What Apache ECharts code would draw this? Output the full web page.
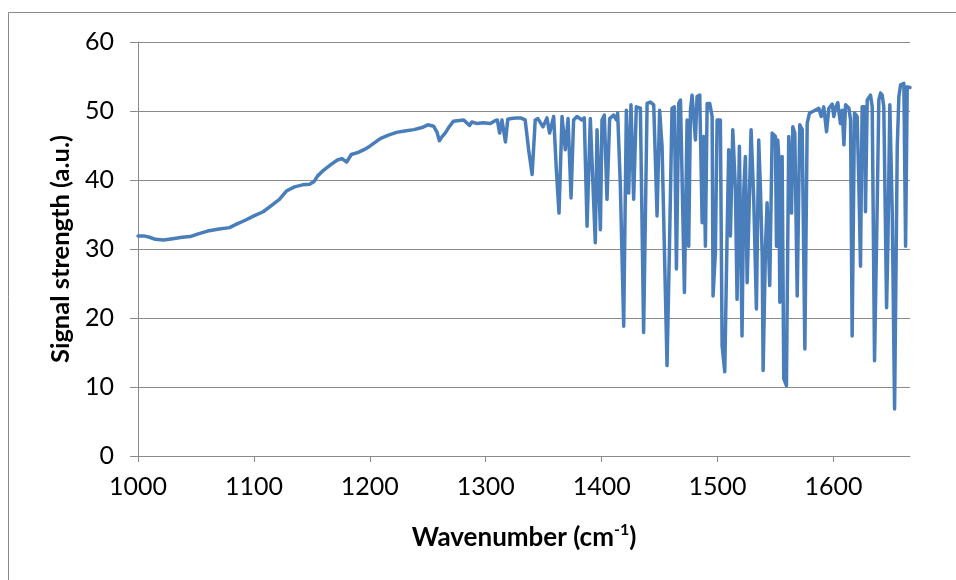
<!DOCTYPE html>
<html>
<head>
<meta charset="utf-8">
<title>Spectrum</title>
<script src="https://cdn.jsdelivr.net/npm/echarts@6/dist/echarts.min.js"></script>
<style>
  html, body { margin: 0; padding: 0; background: #ffffff; }
  #chart { width: 956px; height: 580px; }
</style>
</head>
<body>
<div id="chart"></div>
<script>
// Wavenumber (cm-1) sample positions
const wavenumber = [
  1000, 1005, 1010, 1015, 1022, 1030, 1038, 1045, 1052, 1060,
  1070, 1079, 1085, 1093, 1100, 1108, 1115, 1122, 1128, 1135,
  1142, 1148, 1152, 1155, 1160, 1166, 1172, 1176, 1180, 1184,
  1190, 1195, 1200, 1209, 1216, 1223, 1230, 1238, 1245, 1250,
  1255, 1258, 1260, 1262, 1265, 1268, 1272, 1281, 1286, 1288,
  1292, 1298, 1304, 1308, 1310, 1312, 1314, 1317, 1319, 1322,
  1326, 1330, 1334, 1337, 1340, 1342.7, 1345, 1349.4, 1352.8, 1355.1,
  1358.6, 1360.9, 1363.2, 1365.8, 1368.6, 1371, 1373.6, 1375.8, 1378.7, 1383,
  1385, 1387.4, 1390.2, 1394.5, 1396, 1398.9, 1400.3, 1402.3, 1404.6, 1406.9,
  1410.3, 1412.7, 1413.8, 1416.1, 1419, 1421.3, 1423.3, 1425.3, 1427.6, 1429.9,
  1433.4, 1436.2, 1439.2, 1442, 1444.9, 1447.8, 1450, 1452.1, 1453.5, 1456.4,
  1458.4, 1460.7, 1462.7, 1464.5, 1466.5, 1468, 1471.4, 1473.7, 1475.1, 1476.6,
  1478, 1480.9, 1482.3, 1484.6, 1486.7, 1488, 1489.5, 1491, 1493.2, 1495.3,
  1496.1, 1498.1, 1499.6, 1502.4, 1503.9, 1506.2, 1508.2, 1509.6, 1511.1, 1513.1,
  1515.4, 1516.8, 1518.8, 1521.1, 1522.6, 1524, 1525.5, 1526.9, 1528.9, 1531.2,
  1533.5, 1535.5, 1537, 1538.5, 1539.3, 1541.3, 1542.7, 1545, 1547.1, 1549.9,
  1550.8, 1551.9, 1552.8, 1553.7, 1555.7, 1557.1, 1559.4, 1561.4, 1563.8, 1564.9,
  1566.6, 1568.7, 1570.9, 1573, 1575.3, 1577.3, 1579.3, 1583, 1587.3, 1589.4,
  1591.6, 1594, 1596, 1598.9, 1600.3, 1601.7, 1603.7, 1606, 1607.5, 1609,
  1610.4, 1613.3, 1614.7, 1616.1, 1618.1, 1620.4, 1621.8, 1623.3, 1624.7, 1626.7,
  1627.6, 1629.1, 1631.9, 1633.4, 1635.4, 1637.7, 1639.1, 1640.6, 1642, 1643.4,
  1645.8, 1646.9, 1648.6, 1650.7, 1652.7, 1655, 1656.4, 1657.9, 1660.7, 1662.2,
  1663.6, 1666
];

// Signal strength (a.u.) at each wavenumber
const signal = [
  31.9, 31.9, 31.7, 31.4, 31.3, 31.5, 31.7, 31.8, 32.2, 32.6,
  32.9, 33.1, 33.6, 34.2, 34.8, 35.4, 36.3, 37.2, 38.4, 39.0,
  39.3, 39.4, 39.8, 40.6, 41.4, 42.2, 42.9, 43.1, 42.6, 43.7,
  44.0, 44.4, 44.9, 46.0, 46.5, 46.9, 47.1, 47.3, 47.6, 48.0,
  47.8, 46.9, 45.7, 46.2, 46.8, 47.6, 48.5, 48.7, 47.9, 48.4,
  48.2, 48.3, 48.2, 48.6, 48.7, 46.8, 48.7, 45.5, 48.8, 48.9,
  49.0, 49.0, 48.7, 44.4, 40.8, 48.7, 48.9, 47.7, 49.0, 46.8,
  49.2, 41.5, 35.2, 49.2, 44.4, 48.9, 37.4, 48.7, 49.2, 48.7,
  49.0, 33.3, 48.9, 30.9, 47.3, 32.8, 48.7, 49.4, 37.2, 48.9,
  49.4, 48.7, 49.7, 39.3, 18.8, 50.1, 38.1, 50.9, 37.2, 50.6,
  50.4, 17.9, 51.1, 51.3, 50.9, 34.8, 50.1, 44.9, 45.0, 13.1,
  29.5, 50.4, 50.6, 27.1, 51.1, 51.6, 23.7, 48.7, 30.4, 50.1,
  52.3, 45.8, 52.1, 52.3, 33.8, 46.3, 30.4, 51.1, 51.1, 49.2,
  23.2, 29.5, 48.7, 48.7, 16.0, 12.2, 31.9, 44.4, 31.9, 47.3,
  38.6, 22.7, 44.9, 17.4, 38.6, 43.4, 25.1, 33.8, 47.3, 37.2,
  21.3, 45.8, 38.6, 29.0, 12.4, 30.0, 36.7, 24.7, 46.8, 46.3,
  30.4, 45.8, 43.4, 22.3, 43.4, 11.2, 10.2, 46.3, 35.2, 47.7,
  46.8, 23.2, 48.0, 47.3, 15.5, 48.2, 49.7, 50.0, 50.4, 49.2,
  50.6, 47.0, 50.4, 51.0, 49.2, 50.4, 51.2, 48.2, 50.1, 45.1,
  50.9, 50.4, 48.7, 17.4, 49.7, 49.2, 40.0, 27.5, 50.6, 50.6,
  35.4, 51.6, 52.3, 50.6, 13.8, 36.2, 51.6, 52.6, 52.3, 50.6,
  21.5, 30.4, 50.9, 35.2, 6.8, 44.8, 52.1, 53.8, 54.0, 30.4,
  53.5, 53.4
];

// Axis tick values
const xTicks = [1000, 1100, 1200, 1300, 1400, 1500, 1600];
const yTicks = [0, 10, 20, 30, 40, 50, 60];

const points = wavenumber.map((w, i) => [w, signal[i]]);

const gridGray = '#8a8a8a';
const fontFamily = 'Lato, "Open Sans", sans-serif';

const chart = echarts.init(document.getElementById('chart'), null, { renderer: 'canvas' });

chart.setOption({
  animation: false,
  backgroundColor: '#ffffff',
  graphic: [{
    type: 'rect',
    shape: { x: 8.5, y: 12.5, width: 1000, height: 1000 },
    style: { fill: 'none', stroke: gridGray, lineWidth: 1 },
    silent: true
  }],
  grid: { left: 138, right: 46, top: 42, bottom: 124, containLabel: false },
  xAxis: {
    type: 'value',
    min: 1000,
    max: 1666,
    interval: 100,
    name: 'Wavenumber (cm{sup|-1})',
    nameLocation: 'middle',
    nameGap: 66,
    nameTextStyle: {
      fontFamily: fontFamily, fontWeight: 'bold', fontSize: 26, color: '#000',
      rich: {
        sup: { fontFamily: fontFamily, fontWeight: 'bold', fontSize: 16, color: '#000', verticalAlign: 'top', lineHeight: 32 }
      }
    },
    axisLine: { show: true, onZero: false, lineStyle: { color: gridGray, width: 1 } },
    axisTick: { show: true, length: 6, lineStyle: { color: gridGray }, customValues: xTicks },
    axisLabel: {
      fontFamily: fontFamily, fontSize: 25, color: '#000', margin: 18,
      customValues: xTicks,
      formatter: (v) => String(v)
    },
    splitLine: { show: false }
  },
  yAxis: {
    type: 'value',
    min: 0,
    max: 60,
    interval: 10,
    name: 'Signal strength (a.u.)',
    nameLocation: 'middle',
    nameGap: 62,
    nameTextStyle: { fontFamily: fontFamily, fontWeight: 'bold', fontSize: 25.5, color: '#000' },
    axisLine: { show: true, lineStyle: { color: gridGray, width: 1 } },
    axisTick: { show: true, length: 8, lineStyle: { color: gridGray }, customValues: yTicks },
    axisLabel: {
      fontFamily: fontFamily, fontSize: 25, color: '#000', margin: 24,
      customValues: yTicks,
      formatter: (v) => String(v)
    },
    splitLine: { show: true, lineStyle: { color: gridGray, width: 1 } }
  },
  series: [{
    type: 'line',
    data: points,
    showSymbol: false,
    symbol: 'none',
    lineStyle: { color: '#4a7ebb', width: 3.5, join: 'round', cap: 'round' },
    itemStyle: { color: '#4a7ebb' },
    z: 3
  }]
});
</script>
</body>
</html>
